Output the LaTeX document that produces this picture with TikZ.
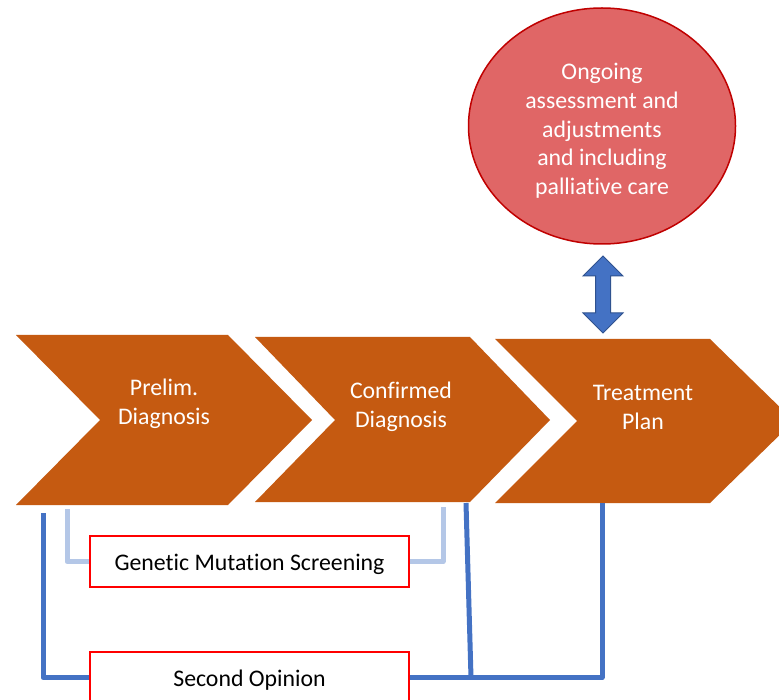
\documentclass[tikz,border=0pt]{standalone}
\usepackage{fontspec}
\setmainfont{Carlito}[Ligatures=NoCommon]
\usetikzlibrary{shapes.geometric}
\definecolor{rust}{HTML}{C55A11}
\definecolor{rose}{HTML}{E06666}
\definecolor{roseline}{HTML}{C00000}
\definecolor{steel}{HTML}{4472C4}
\definecolor{steeldark}{HTML}{2F528F}
\definecolor{paleblue}{HTML}{B4C7E7}
\definecolor{boxred}{HTML}{FF0000}
\newcommand{\lowered}[1]{\raisebox{-3pt}[\height][\depth]{#1}}
\begin{document}
\begin{tikzpicture}[x=1pt,y=-1pt,
  chev/.style={fill=rust},
  chevtext/.style={text=white, align=center, inner sep=0pt, font=\fontsize{23.8}{28.7}\selectfont},
  stagebox/.style={draw=boxred, line width=2pt, fill=white, minimum width=319pt,
    minimum height=51pt, inner sep=0pt, font=\fontsize{23.8}{28}\selectfont},
  link/.style={line width=5pt, draw=steel, line join=round},
  softlink/.style={line width=5pt, draw=paleblue, line join=round},
]
\clip (0,0) rectangle (779,700);
\fill[white] (0,0) rectangle (779,700);

% process chevrons
\fill[chev] (16,335) -- (228,335) -- (312,420) -- (228,505) -- (16,505) -- (100,420) -- cycle;
\fill[chev] (255,337) -- (470,337) -- (550,420) -- (470,502) -- (255,502) -- (335,420) -- cycle;
\fill[chev] (495,339) -- (710,339) -- (794,421) -- (710,503) -- (495,503) -- (577,421) -- cycle;
\node[chevtext] (prelim) at (164,403.5) {Prelim.\\Diagnosis};
\node[chevtext] (confirmed) at (401,406.5) {Confirmed\\Diagnosis};
\node[chevtext] (treatment) at (643,407.5) {Treatment\\Plan};

% ongoing care
\node[ellipse, draw=roseline, fill=rose, line width=1.5pt, minimum width=267pt,
  minimum height=236pt, inner sep=0pt] (care) at (602,126) {};
\node[chevtext] (caretext) at (602,131)
  {Ongoing\\assessment and\\adjustments\\and including\\palliative care};

% two-way arrow between plan and ongoing care
\filldraw[fill=steel, draw=steeldark, line width=1pt]
  (603,256) -- (623,276) -- (610.5,276) -- (610.5,313) -- (623,313) -- (603,333)
  -- (583,313) -- (595.5,313) -- (595.5,276) -- (583,276) -- cycle;

% side steps
\coordinate (prelimA) at (67,509);
\coordinate (confA) at (443,507);
\coordinate (prelimB) at (43,513);
\coordinate (confB) at (466,503);
\coordinate (planB) at (602,503);
\coordinate (joinB) at (471,677.5);

\node[stagebox] (gene) at (249.5,561.5) {\lowered{Genetic Mutation Screening}};
\node[stagebox] (second) at (249.5,677.5) {\lowered{Second Opinion}};

\draw[softlink] (prelimA) |- (gene.west);
\draw[softlink] (gene.east) -| (confA);
\draw[link] (prelimB) |- (second.west);
\draw[link] (second.east) -| (planB);
\draw[link] (confB) -- (joinB);
\node[stagebox, fill=none] at (gene) {};
\node[stagebox, fill=none] at (second) {};
\end{tikzpicture}
\end{document}
